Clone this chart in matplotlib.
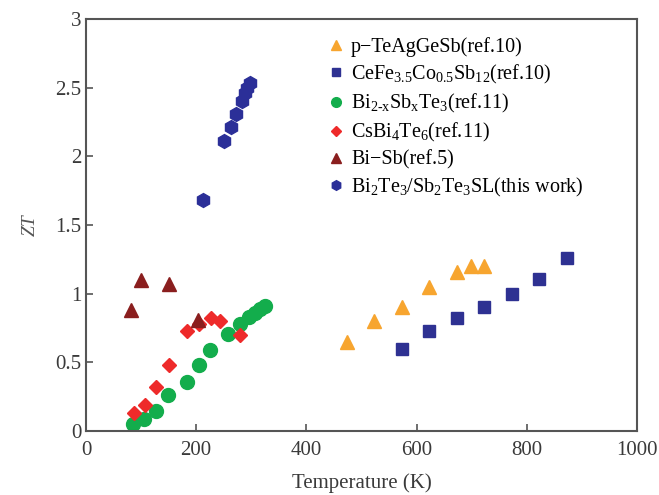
import matplotlib
matplotlib.use("Agg")
import matplotlib.pyplot as plt

# ZT vs temperature for several thermoelectric materials
t_tagegsb = [473, 523, 573, 623, 673, 698, 723]
zt_tagegsb = [0.65, 0.80, 0.90, 1.05, 1.16, 1.20, 1.20]

t_cefe = [573, 623, 673, 723, 773, 823, 873]
zt_cefe = [0.60, 0.73, 0.82, 0.90, 1.00, 1.11, 1.26]

t_bisbte = [86, 105, 127, 149, 183, 205, 225, 258, 279, 295, 307, 316, 325]
zt_bisbte = [0.05, 0.09, 0.15, 0.26, 0.36, 0.48, 0.59, 0.71, 0.78, 0.83, 0.86, 0.89, 0.91]

t_csbite = [88, 107, 127, 151, 184, 205, 226, 243, 279]
zt_csbite = [0.13, 0.19, 0.32, 0.48, 0.73, 0.78, 0.82, 0.80, 0.70]

t_bisb = [81, 100, 151, 204]
zt_bisb = [0.88, 1.10, 1.07, 0.81]

t_sl = [213, 250, 263, 273, 283, 288, 293, 298]
zt_sl = [1.68, 2.11, 2.21, 2.31, 2.40, 2.46, 2.50, 2.53]

labels = [
    "p\u2212TeAgGeSb(ref.10)",
    "CeFe$_{3.5}$Co$_{0.5}$Sb$_{12}$(ref.10)",
    "Bi$_{2\u2010x}$Sb$_{x}$Te$_{3}$(ref.11)",
    "CsBi$_{4}$Te$_{6}$(ref.11)",
    "Bi\u2212Sb(ref.5)",
    "Bi$_{2}$Te$_{3}$/Sb$_{2}$Te$_{3}$SL(this work)",
]

plt.rcParams['font.family'] = ['Liberation Serif', 'DejaVu Serif']
plt.rcParams['mathtext.default'] = 'regular'

fig = plt.figure(figsize=(6.59, 4.95), dpi=100)
ax = fig.add_axes([0.1305, 0.129, 0.836, 0.833])

ax.plot(t_tagegsb, zt_tagegsb, '^', color='#f7a52f', ms=10, ls='none', label=labels[0])
ax.plot(t_cefe, zt_cefe, 's', color='#2e3192', ms=9, ls='none', label=labels[1])
ax.plot(t_bisbte, zt_bisbte, 'o', color='#13ad4c', ms=10, ls='none', label=labels[2])
ax.plot(t_csbite, zt_csbite, 'D', color='#ee2a2a', ms=7.5, ls='none', label=labels[3])
ax.plot(t_bisb, zt_bisb, '^', color='#8a1e1e', ms=10, ls='none', label=labels[4])
ax.plot(t_sl, zt_sl, 'h', color='#2b2f98', ms=10, ls='none', label=labels[5])

ax.set_xlim(0, 1000)
ax.set_ylim(0, 3)
ax.set_xticks([0, 200, 400, 600, 800, 1000])
ax.set_yticks([0, 0.5, 1, 1.5, 2, 2.5, 3])
ax.set_yticklabels(['0', '0.5', '1', '1.5', '2', '2.5', '3'])
ax.tick_params(direction='in', length=5, width=1.2, colors='#555555',
               labelcolor='#3a3a3a', labelsize=15)
ax.tick_params(axis='x', pad=7)
for s in ax.spines.values():
    s.set_color('#555555')
    s.set_linewidth(1.5)

ax.set_xlabel('Temperature (K)', fontsize=15, color='#3a3a3a', labelpad=10)
ax.set_ylabel('ZT', fontsize=14, color='#555555', style='italic', labelpad=12)

ax.legend(loc='upper left', bbox_to_anchor=(0.41, 0.99), frameon=False,
          fontsize=14.5, handletextpad=0.25, labelspacing=0.3,
          handlelength=1.0, borderaxespad=0.3, markerscale=0.7)

fig.savefig('out.png', dpi=100)
